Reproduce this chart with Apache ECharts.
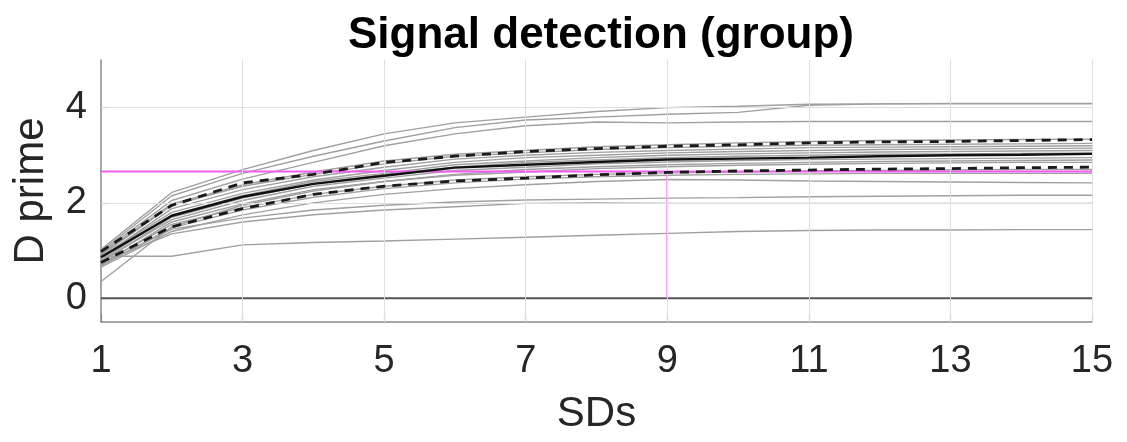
<!DOCTYPE html>
<html>
<head>
<meta charset="utf-8">
<script src="https://cdn.jsdelivr.net/npm/echarts@6/dist/echarts.min.js"></script>
<style>
html,body{margin:0;padding:0;background:#fff;}
#chart{width:1127px;height:442px;}
</style>
</head>
<body>
<div id="chart"></div>
<script>
// ---- data ----
const sds = [1,2,3,4,5,6,7,8,9,10,11,12,13,14,15];
const xTicks = [1,3,5,7,9,11,13,15];
const yTicks = [0,2,4];
const xGrid = [3,5,7,9,11,13,15];
const yGrid = [2,4];

const s01 = [1.02,2.22,2.70,3.10,3.45,3.68,3.80,3.92,4.00,4.03,4.07,4.08,4.09,4.09,4.09];
const s02 = [0.98,2.15,2.62,2.98,3.30,3.58,3.74,3.80,3.86,3.90,4.05,4.08,4.08,4.08,4.08];
const s03 = [0.95,2.05,2.50,2.85,3.20,3.45,3.62,3.70,3.68,3.70,3.71,3.71,3.71,3.71,3.71];
const s04 = [0.92,1.98,2.38,2.65,2.88,3.02,3.10,3.18,3.22,3.26,3.29,3.31,3.32,3.33,3.34];
const s05 = [0.90,1.95,2.35,2.60,2.82,2.98,3.05,3.12,3.16,3.19,3.21,3.22,3.23,3.24,3.25];
const s06 = [0.85,1.88,2.28,2.55,2.75,2.92,3.00,3.06,3.10,3.13,3.16,3.17,3.18,3.19,3.20];
const s07 = [0.88,1.80,2.20,2.48,2.68,2.85,2.95,3.00,3.05,3.08,3.10,3.12,3.13,3.14,3.15];
const s08 = [0.80,1.75,2.15,2.45,2.62,2.80,2.88,2.95,3.00,3.03,3.05,3.07,3.08,3.09,3.10];
const s09 = [0.75,1.70,2.10,2.40,2.60,2.75,2.85,2.90,2.95,2.98,3.00,3.02,3.03,3.04,3.05];
const s10 = [0.78,1.65,2.05,2.35,2.52,2.68,2.75,2.82,2.86,2.89,2.91,2.92,2.93,2.94,2.95];
const s11 = [0.35,1.50,1.95,2.25,2.45,2.60,2.70,2.76,2.80,2.83,2.85,2.87,2.88,2.89,2.90];
const s12 = [0.70,1.60,1.98,2.28,2.45,2.58,2.65,2.72,2.76,2.79,2.81,2.83,2.84,2.85,2.85];
const s13 = [0.72,1.55,1.90,2.18,2.35,2.48,2.55,2.60,2.63,2.65,2.67,2.68,2.69,2.70,2.70];
const s14 = [0.68,1.48,1.85,2.12,2.30,2.42,2.50,2.55,2.58,2.60,2.61,2.62,2.62,2.62,2.62];
const s15 = [0.65,1.40,1.75,2.00,2.18,2.30,2.38,2.45,2.49,2.48,2.46,2.45,2.44,2.43,2.42];
const s16 = [0.70,1.45,1.68,1.85,1.95,2.02,2.06,2.08,2.10,2.11,2.13,2.14,2.15,2.16,2.16];
const s17 = [0.75,1.35,1.60,1.75,1.85,1.92,1.99,2.00,1.99,1.99,1.99,1.99,1.99,1.99,1.99];
const s18 = [0.88,0.88,1.12,1.17,1.20,1.24,1.28,1.32,1.36,1.40,1.42,1.43,1.43,1.44,1.44];

const meanDprime = [0.86,1.73,2.13,2.40,2.57,2.74,2.80,2.86,2.91,2.93,2.95,2.98,3.00,3.01,3.03];
const upperBound = [0.98,1.95,2.42,2.60,2.85,2.98,3.08,3.14,3.19,3.22,3.26,3.28,3.29,3.31,3.33];
const lowerBound = [0.75,1.50,1.88,2.18,2.35,2.46,2.52,2.59,2.64,2.67,2.69,2.71,2.72,2.74,2.75];

const criterionDprime = 2.66;
const criterionSD = 9;
const yMin = -0.5, yMax = 5;
const xMin = 1, xMax = 15;

// ---- build ----
const subjects = [s01,s02,s03,s04,s05,s06,s07,s08,s09,s10,s11,s12,s13,s14,s15,s16,s17,s18];
const pair = arr => sds.map((x,i)=>[x,arr[i]]);
const FONT = '"Liberation Sans", Arial, Helvetica, sans-serif';

const series = [];
// zero line + gridlines
series.push({
  type:'line', z:1, silent:true, symbol:'none', animation:false,
  data:[[xMin,0],[xMax,0]],
  lineStyle:{color:'#555555', width:2},
  markLine:{
    silent:true, symbol:'none', animation:false, label:{show:false},
    lineStyle:{color:'#dedede', width:1, type:'solid'},
    data: xGrid.map(v=>({xAxis:v})).concat(yGrid.map(v=>({yAxis:v})))
  }
});
subjects.forEach(s=>{
  series.push({
    type:'line', z:3, silent:true, symbol:'none', animation:false,
    data:pair(s),
    lineStyle:{color:'#a0a0a0', width:1.4}
  });
});
// criterion lines
series.push({
  type:'line', z:4, silent:true, symbol:'none', animation:false,
  data:[[xMin,criterionDprime],[xMax,criterionDprime]],
  lineStyle:{color:'#f25cf2', width:2}
});
series.push({
  type:'line', z:4, silent:true, symbol:'none', animation:false,
  data:[[criterionSD,0],[criterionSD,criterionDprime]],
  lineStyle:{color:'#f25cf2', width:1.6}
});
series.push({
  type:'line', z:5, silent:true, symbol:'none', animation:false,
  data:pair(meanDprime),
  lineStyle:{color:'#111111', width:2.4}
});
[upperBound, lowerBound].forEach(b=>{
  series.push({
    type:'line', z:5, silent:true, symbol:'none', animation:false,
    data:pair(b),
    lineStyle:{color:'#1a1a1a', width:2.8, type:[9,7]}
  });
});

const chart = echarts.init(document.getElementById('chart'), null, {renderer:'canvas'});
chart.setOption({
  animation:false,
  backgroundColor:'#ffffff',
  title:{
    text:'Signal detection (group)',
    left:596, top:9, textAlign:'center',
    textStyle:{fontFamily:FONT, fontSize:44, fontWeight:'bold', color:'#000'}
  },
  grid:{left:101, right:35, top:60, bottom:120, containLabel:false},
  xAxis:{
    type:'value', min:xMin, max:xMax,
    name:'SDs', nameLocation:'middle', nameGap:71,
    nameTextStyle:{fontFamily:FONT, fontSize:42, color:'#262626'},
    axisLine:{show:true, onZero:false, lineStyle:{color:'#8a8a8a', width:1.5}},
    axisTick:{show:true, inside:true, length:8, customValues:xTicks, lineStyle:{color:'#8a8a8a', width:1.2}},
    axisLabel:{show:true, customValues:xTicks, margin:21, fontFamily:FONT, fontSize:38, color:'#262626'},
    splitLine:{show:false}
  },
  yAxis:{
    type:'value', min:yMin, max:yMax,
    name:'D prime', nameLocation:'middle', nameGap:49, nameRotate:90,
    nameTextStyle:{fontFamily:FONT, fontSize:42, color:'#262626'},
    axisLine:{show:true, onZero:false, lineStyle:{color:'#8a8a8a', width:1.5}},
    axisTick:{show:true, inside:true, length:8, customValues:yTicks, lineStyle:{color:'#8a8a8a', width:1.2}},
    axisLabel:{show:true, customValues:yTicks, margin:14, fontFamily:FONT, fontSize:38, color:'#262626'},
    splitLine:{show:false}
  },
  series:series
});
</script>
</body>
</html>
